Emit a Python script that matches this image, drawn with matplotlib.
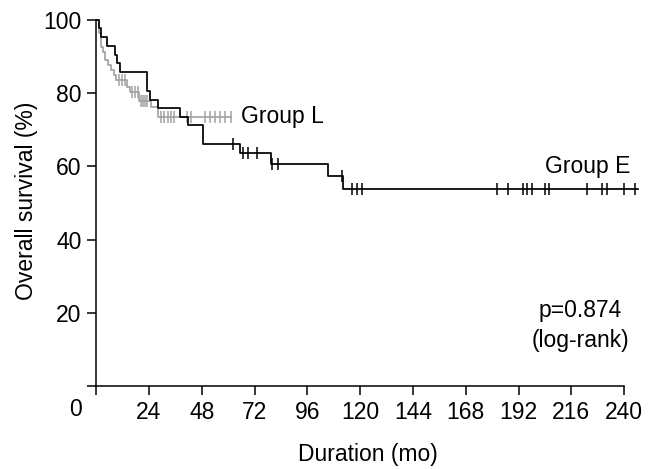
import matplotlib
matplotlib.use("Agg")
import matplotlib.pyplot as plt
import numpy as np

plt.rcParams['font.family'] = ['Liberation Sans', 'DejaVu Sans']

# Group E (black): step times (mo) and survival (%)
e_time = [0, 1.2, 2.3, 5.1, 8.6, 9.6, 10.8, 23.3, 24.5, 27.9, 38.2, 41.8, 48.5,
          65.5, 79.4, 105.6, 112.4]
e_surv = [100, 97.8, 95.4, 92.9, 90.4, 88.2, 85.7, 80.7, 78.1, 75.9, 73.4, 71.3, 66.0,
          63.6, 60.8, 57.4, 53.7]
e_end = 246.4
e_cens = [62.4, 66.7, 69.2, 73.3, 79.8, 82.6, 111.9, 116.2, 118.5, 120.8,
          182.1, 187.4, 194.2, 195.8, 198.0, 203.8, 205.6, 223.0, 229.9, 232.1,
          239.7, 245.0]

# Group L (gray)
l_time = [0, 1.2, 2.0, 3.3, 4.2, 5.5, 6.6, 8.1, 9.1, 14.2, 15.4, 19.5, 24.8, 27.9]
l_surv = [100, 96.4, 92.7, 91.3, 89.0, 87.7, 86.3, 85.0, 83.6, 81.8, 80.4, 77.9, 76.3, 73.4]
l_end = 61.2
l_cens = [10.6, 11.8, 13.3, 16.5, 17.6, 18.8, 20.3, 21.3, 22.3, 23.3, 29.4, 31.0,
          32.5, 34.0, 35.5, 41.2, 43.0, 49.5, 51.8, 54.0, 56.3, 58.5, 61.2]

xticks = [0, 24, 48, 72, 96, 120, 144, 168, 192, 216, 240]
yticks = [0, 20, 40, 60, 80, 100]


def surv_at(times, surv, t):
    idx = np.searchsorted(times, t, side='right') - 1
    return np.array(surv)[idx]


fig = plt.figure(figsize=(6.54, 4.69), dpi=100)
ax = fig.add_axes([0.147, 0.177, 0.831, 0.788])

for times, surv, end, cens, col in [(l_time, l_surv, l_end, l_cens, '#a3a3a3'),
                                    (e_time, e_surv, e_end, e_cens, 'black')]:
    ax.step(list(times) + [end], list(surv) + [surv[-1]], where='post',
            color=col, lw=1.25, clip_on=False)
    ax.plot(cens, surv_at(times, surv, cens), ls='none', marker='|',
            ms=8, mew=1.1, color=col, clip_on=False)

ax.set_xlim(0, 247)
ax.set_ylim(0, 101)
ax.spines['top'].set_visible(False)
ax.spines['right'].set_visible(False)
ax.spines['bottom'].set_bounds(0, 240)
ax.spines['left'].set_bounds(0, 100)
for s in ['bottom', 'left']:
    ax.spines[s].set_linewidth(1.1)

ax.set_xticks(xticks)
ax.set_xticklabels([''] + [str(v) for v in xticks[1:]])
ax.set_yticks(yticks)
ax.set_yticklabels([''] + [str(v) for v in yticks[1:]])
ax.tick_params(direction='out', length=6.5, width=1.1, labelsize=16.5, pad=4)

fig.text(0.115, 0.126, '0', fontsize=16.5, ha='center', va='center')

ax.set_xlabel('Duration (mo)', fontsize=16.5, labelpad=14)
ax.set_ylabel('Overall survival (%)', fontsize=16.5, labelpad=4)

ax.text(66, 73.6, 'Group L', fontsize=16.5, va='center', ha='left')
ax.text(204, 60, 'Group E', fontsize=16.5, va='center', ha='left')
ax.text(220, 20.5, 'p=0.874', fontsize=16.5, va='center', ha='center')
ax.text(220, 12.5, '(log-rank)', fontsize=16.5, va='center', ha='center')

fig.savefig('out.png', dpi=100)
